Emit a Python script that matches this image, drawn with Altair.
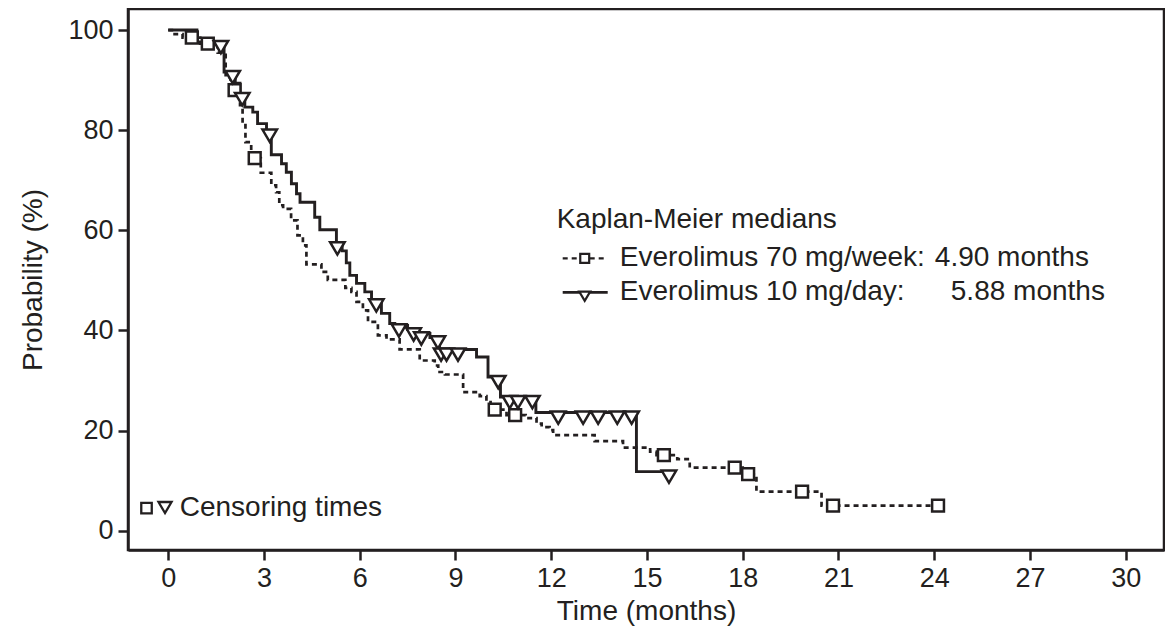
import altair as alt
import pandas as pd
import numpy as np

# Kaplan-Meier step data (time in months, probability %)
solid_t = [0, 0.9, 1.75, 2.10, 2.25, 2.40, 2.65, 2.80, 3.08, 3.23, 3.55, 3.70, 3.86, 4.02, 4.13,
           4.59, 4.75, 5.27, 5.45, 5.58, 5.69, 5.90, 6.16, 6.37, 6.68, 6.94, 7.10, 7.50, 7.80, 8.20,
           8.50, 9.66, 10.02, 10.41, 11.52, 14.67, 15.69]
solid_s = [100, 97.6, 91.6, 89.4, 87.2, 84.6, 83.6, 81.3, 79.9, 75.1, 73.3, 71.6, 69.3, 67.3, 65.6,
           62.6, 60.1, 57.4, 55.9, 53.5, 51.0, 49.4, 47.7, 46.0, 43.4, 41.4, 41.0, 40.2, 39.4, 38.6,
           36.2, 34.7, 30.7, 26.7, 23.6, 11.8, 11.8]
solid_cens = [1.65, 2.02, 2.32, 3.18, 5.30, 6.52, 7.23, 7.69, 7.93, 8.45, 8.55, 8.72, 9.08,
              10.34, 10.70, 10.96, 11.41, 12.22, 13.00, 13.47, 14.07, 14.52, 15.69]

dash_t = [0, 0.20, 0.45, 1.00, 1.55, 1.80, 1.95, 2.25, 2.33, 2.42, 2.60, 2.90, 3.23, 3.38, 3.48,
          3.60, 3.85, 4.05, 4.22, 4.33, 4.80, 5.00, 5.55, 5.74, 5.90, 6.10, 6.26, 6.57, 6.84, 7.25,
          7.88, 8.35, 8.46, 8.67, 9.24, 9.76, 9.97, 10.10, 10.60, 11.20, 11.54, 11.70, 11.95, 12.06,
          13.36, 14.25, 15.10, 15.30, 15.95, 16.34, 18.00, 18.43, 20.47, 24.12]
dash_s = [100, 99.2, 98.5, 97.3, 95.5, 90.5, 88.0, 85.0, 81.0, 77.6, 74.4, 71.5, 69.0, 67.6, 65.0,
          64.3, 62.0, 59.0, 57.0, 53.2, 51.7, 50.1, 48.5, 47.7, 45.7, 44.0, 41.7, 39.0, 38.2, 36.2,
          34.0, 33.0, 31.7, 31.2, 27.7, 26.9, 25.7, 24.2, 23.1, 22.5, 21.4, 20.7, 20.1, 19.1,
          17.9, 16.6, 15.8, 15.1, 14.3, 12.6, 11.3, 7.8, 5.0, 5.0]
dash_cens = [0.74, 1.24, 2.08, 2.71, 10.23, 10.87, 15.53, 17.75, 18.17, 19.86, 20.83, 24.12]

x_ticks = list(range(0, 31, 3))
y_ticks = list(range(0, 101, 20))

legend_title = "Kaplan-Meier medians"
legend_names = ["Everolimus 70 mg/week:", "Everolimus 10 mg/day:"]
legend_medians = ["4.90 months", "5.88 months"]
censor_label = "Censoring times"

INK = "#231f20"
FONT = "Liberation Sans"


def lookup(ts, ss, cs):
    idx = np.searchsorted(np.array(ts), np.array(cs), side="right") - 1
    return [ss[i] for i in idx]


solid_df = pd.DataFrame({"t": solid_t, "s": solid_s})
dash_df = pd.DataFrame({"t": dash_t, "s": dash_s})
solid_c = pd.DataFrame({"t": solid_cens, "s": lookup(solid_t, solid_s, solid_cens)})
dash_c = pd.DataFrame({"t": dash_cens, "s": lookup(dash_t, dash_s, dash_cens)})

xs = alt.Scale(domain=[-1.26, 31.2], nice=False, zero=False)
ys = alt.Scale(domain=[-3.85, 104.2], nice=False, zero=False)

X = alt.X("t:Q", scale=xs, axis=alt.Axis(values=x_ticks, title="Time (months)", format="d"))
Y = alt.Y("s:Q", scale=ys, axis=alt.Axis(values=y_ticks, title="Probability (%)", format="d"))

TRI = "M-1,-0.15 L1,-0.15 L0,1.55 Z"
TRI_C = "M-1,-0.8 L1,-0.8 L0,0.9 Z"

dash_line = alt.Chart(dash_df).mark_line(
    interpolate="step-after", color=INK, strokeWidth=2.7, strokeDash=[5, 4]
).encode(x=X, y=Y)
solid_line = alt.Chart(solid_df).mark_line(
    interpolate="step-after", color=INK, strokeWidth=2.9
).encode(x=X, y=Y)
dash_pts = alt.Chart(dash_c).mark_point(
    shape="square", size=140, filled=True, fill="white", stroke=INK, strokeWidth=2.5, opacity=1
).encode(x=X, y=Y)
solid_pts = alt.Chart(solid_c).mark_point(
    shape=TRI, size=210, filled=True, fill="white", stroke=INK, strokeWidth=2.5, opacity=1
).encode(x=X, y=Y)

# legend (in data units)
leg_text = pd.DataFrame({
    "t": [12.17, 14.15, 14.15, 24.02, 24.52],
    "s": [62.0, 54.4, 47.6, 54.4, 47.6],
    "label": [legend_title, legend_names[0], legend_names[1], legend_medians[0], legend_medians[1]],
})
leg_txt = alt.Chart(leg_text).mark_text(
    align="left", baseline="middle", font=FONT, fontSize=28, color=INK
).encode(x=X, y=Y, text="label:N")

leg_dash = alt.Chart(pd.DataFrame({"t": [12.36, 13.77], "s": [54.4, 54.4]})).mark_line(
    color=INK, strokeWidth=2.4, strokeDash=[5, 4]).encode(x=X, y=Y)
leg_solid = alt.Chart(pd.DataFrame({"t": [12.36, 13.77], "s": [47.6, 47.6]})).mark_line(
    color=INK, strokeWidth=2.6).encode(x=X, y=Y)
leg_sq = alt.Chart(pd.DataFrame({"t": [13.05], "s": [54.4]})).mark_point(
    shape="square", size=80, filled=True, fill="white", stroke=INK, strokeWidth=2.2, opacity=1
).encode(x=X, y=Y)
leg_tri = alt.Chart(pd.DataFrame({"t": [13.05], "s": [47.6]})).mark_point(
    shape=TRI, size=120, filled=True, fill="white", stroke=INK, strokeWidth=2.2, opacity=1
).encode(x=X, y=Y)

cens_sq = alt.Chart(pd.DataFrame({"t": [-0.68], "s": [4.5]})).mark_point(
    shape="square", size=110, filled=True, fill="white", stroke=INK, strokeWidth=2.3, opacity=1
).encode(x=X, y=Y)
cens_tri = alt.Chart(pd.DataFrame({"t": [-0.10], "s": [4.7]})).mark_point(
    shape=TRI_C, size=170, filled=True, fill="white", stroke=INK, strokeWidth=2.3, opacity=1
).encode(x=X, y=Y)
cens_txt = alt.Chart(pd.DataFrame({"t": [0.36], "s": [4.5], "label": [censor_label]})).mark_text(
    align="left", baseline="middle", font=FONT, fontSize=28, color=INK
).encode(x=X, y=Y, text="label:N")

chart = alt.layer(
    dash_line, solid_line, dash_pts, solid_pts,
    leg_dash, leg_solid, leg_sq, leg_tri, leg_txt,
    cens_sq, cens_tri, cens_txt,
).properties(
    width=1036, height=541,
    padding={"left": 120, "top": 1, "right": 1, "bottom": 84},
    autosize=alt.AutoSizeParams(type="none"),
    background="white",
).configure_view(
    stroke=INK, strokeWidth=2.5
).configure_axis(
    grid=False, domainColor=INK, domainWidth=2.5, tickColor=INK, tickWidth=2.5, tickSize=10,
    labelFont=FONT, labelFontSize=27, labelColor=INK, labelPadding=5,
    titleFont=FONT, titleFontSize=28, titleFontWeight="normal", titleColor=INK,
).configure_axisX(titlePadding=6).configure_axisY(titlePadding=20)

chart.save("out.html", embed_options={"renderer": "svg", "actions": False})
